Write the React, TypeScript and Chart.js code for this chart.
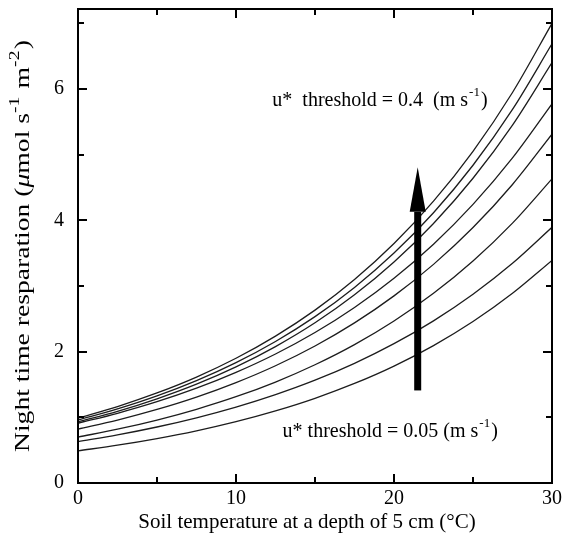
import React, { useEffect, useRef } from "react";
import { Chart, registerables } from "chart.js";

Chart.register(...registerables);

// ---- data ----
const temperatures = [0, 2.5, 5, 7.5, 10, 12.5, 15, 17.5, 20, 22.5, 25, 27.5, 30];

const curve005 = [0.49, 0.576, 0.677, 0.795, 0.934, 1.098, 1.29, 1.516, 1.781, 2.093, 2.459, 2.889, 3.39];
const curve010 = [0.63, 0.733, 0.853, 0.993, 1.156, 1.346, 1.566, 1.823, 2.122, 2.47, 2.875, 3.346, 3.894];
const curve015 = [0.7, 0.819, 0.959, 1.123, 1.314, 1.538, 1.801, 2.108, 2.468, 2.889, 3.381, 3.958, 4.633];
const curve020 = [0.82, 0.958, 1.12, 1.308, 1.529, 1.786, 2.087, 2.439, 2.85, 3.33, 3.891, 4.547, 5.313];
const curve025 = [0.91, 1.062, 1.238, 1.444, 1.685, 1.965, 2.292, 2.674, 3.119, 3.638, 4.244, 4.951, 5.775];
const curve030 = [0.93, 1.092, 1.283, 1.506, 1.769, 2.078, 2.44, 2.866, 3.366, 3.953, 4.642, 5.452, 6.403];
const curve035 = [0.96, 1.129, 1.327, 1.56, 1.834, 2.156, 2.534, 2.979, 3.502, 4.117, 4.84, 5.69, 6.689];
const curve040 = [0.99, 1.165, 1.372, 1.614, 1.9, 2.237, 2.633, 3.099, 3.647, 4.293, 5.053, 5.948, 7.001];

const seriesList = [curve005, curve010, curve015, curve020, curve025, curve030, curve035, curve040];
const seriesNames = ["0.05", "0.10", "0.15", "0.20", "0.25", "0.30", "0.35", "0.40"];

const xTickValues = [0, 10, 20, 30];
const xMinorTicks = [5, 15, 25];
const yTickValues = [0, 2, 4, 6];
const yMinorTicks = [1, 3, 5, 7];

const xTitle = "Soil temperature at a depth of 5 cm (\u00B0C)";
// y title pieces: [text, style] where style: n = normal, i = italic, s = superscript
const yTitleParts: [string, string][] = [
  ["Night time resparation (", "n"],
  ["\u03BC", "i"],
  ["mol s", "n"],
  ["-1", "s"],
  [" m", "n"],
  ["-2", "s"],
  [")", "n"],
];

// annotation (data coordinates)
const arrowX = 21.5;
const arrowFrom = 1.41;
const arrowTo = 4.81;
const arrowHeadBase = 4.13;
const highLabel = { x: 12.3, y: 5.83, text: "u*  threshold = 0.4  (m s", sup: "-1", tail: ")" };
const lowLabel = { x: 12.95, y: 0.78, text: "u* threshold = 0.05 (m s", sup: "-1", tail: ")" };

const FONT = "'Liberation Serif', 'Times New Roman', serif";

const framePlugin = {
  id: "frameTicks",
  afterDatasetsDraw(chart: any) {
    const { ctx, chartArea, scales } = chart;
    const xs = scales.x;
    const ys = scales.y;
    const { left, right, top, bottom } = chartArea;
    ctx.save();
    ctx.strokeStyle = "#000";
    ctx.lineWidth = 2;
    ctx.strokeRect(left, top, right - left, bottom - top);
    const drawX = (v: number, len: number) => {
      const px = Math.round(xs.getPixelForValue(v));
      ctx.beginPath();
      ctx.moveTo(px, bottom);
      ctx.lineTo(px, bottom - len);
      ctx.moveTo(px, top);
      ctx.lineTo(px, top + len);
      ctx.stroke();
    };
    const drawY = (v: number, len: number) => {
      const py = Math.round(ys.getPixelForValue(v));
      ctx.beginPath();
      ctx.moveTo(left, py);
      ctx.lineTo(left + len, py);
      ctx.moveTo(right, py);
      ctx.lineTo(right - len, py);
      ctx.stroke();
    };
    xTickValues.forEach((v) => drawX(v, 9));
    xMinorTicks.forEach((v) => drawX(v, 6));
    yTickValues.forEach((v) => drawY(v, 9));
    yMinorTicks.forEach((v) => drawY(v, 6));

    // arrow
    const ax = xs.getPixelForValue(arrowX);
    const ay0 = ys.getPixelForValue(arrowFrom);
    const ay1 = ys.getPixelForValue(arrowTo);
    const ayb = ys.getPixelForValue(arrowHeadBase);
    ctx.fillStyle = "#000";
    ctx.fillRect(ax - 3.5, ayb, 7, ay0 - ayb);
    ctx.beginPath();
    ctx.moveTo(ax, ay1);
    ctx.lineTo(ax + 8, ayb);
    ctx.lineTo(ax - 8, ayb);
    ctx.closePath();
    ctx.fill();

    // annotation labels
    const drawLabel = (lab: any) => {
      const px = xs.getPixelForValue(lab.x);
      const py = ys.getPixelForValue(lab.y);
      ctx.textBaseline = "middle";
      ctx.textAlign = "left";
      ctx.font = `20px ${FONT}`;
      ctx.fillText(lab.text, px, py);
      const w = ctx.measureText(lab.text).width;
      ctx.font = `13px ${FONT}`;
      ctx.fillText(lab.sup, px + w + 1, py - 8);
      const ws = ctx.measureText(lab.sup).width;
      ctx.font = `20px ${FONT}`;
      ctx.fillText(lab.tail, px + w + ws + 2, py);
    };
    drawLabel(highLabel);
    drawLabel(lowLabel);

    // x title
    ctx.font = `21px ${FONT}`;
    ctx.textAlign = "center";
    ctx.textBaseline = "middle";
    ctx.fillText(xTitle, (left + right) / 2 - 8, 522);

    // y title with italic mu and superscripts (stretched along its length like the source)
    const fontFor = (st: string) =>
      st === "i" ? `italic 21px ${FONT}` : st === "s" ? `15px ${FONT}` : `21px ${FONT}`;
    let total = 0;
    const widths = yTitleParts.map(([t, st]) => {
      ctx.font = fontFor(st);
      const w = ctx.measureText(t).width + (st === "s" ? 1 : 0);
      total += w;
      return w;
    });
    const targetLen = 412;
    const stretch = targetLen / total;
    ctx.translate(23, (top + bottom) / 2);
    ctx.rotate(-Math.PI / 2);
    ctx.scale(stretch, 1);
    ctx.textAlign = "left";
    let cx = -total / 2;
    yTitleParts.forEach(([t, st], i) => {
      ctx.font = fontFor(st);
      ctx.fillText(t, cx, st === "s" ? -8 : 0);
      cx += widths[i];
    });
    ctx.restore();
  },
};

export default function App() {
  const ref = useRef<HTMLCanvasElement | null>(null);
  useEffect(() => {
    if (!ref.current) return;
    const chart = new Chart(ref.current, {
      type: "line",
      data: {
        datasets: seriesList.map((s, i) => ({
          label: seriesNames[i],
          data: temperatures.map((t, j) => ({ x: t, y: s[j] })),
          borderColor: "#1c1c1c",
          borderWidth: 1.3,
          pointRadius: 0,
          fill: false,
          cubicInterpolationMode: "monotone" as const,
        })),
      },
      options: {
        responsive: false,
        animation: false,
        layout: { padding: { top: 9, right: 15, left: 0, bottom: 0 } },
        plugins: { legend: { display: false }, tooltip: { enabled: false } },
        scales: {
          x: {
            type: "linear",
            min: 0,
            max: 30,
            grid: { display: false, drawTicks: false },
            border: { display: false },
            afterBuildTicks: (scale: any) => {
              scale.ticks = xTickValues.map((v) => ({ value: v }));
            },
            afterFit: (scale: any) => {
              scale.height = 56;
              scale.paddingLeft = 0;
              scale.paddingRight = 0;
            },
            ticks: {
              color: "#000",
              padding: 4,
              maxRotation: 0,
              font: { family: FONT, size: 20 },
              callback: (v: any) => String(v),
            },
          },
          y: {
            type: "linear",
            min: 0,
            max: 7.22,
            grid: { display: false, drawTicks: false },
            border: { display: false },
            afterBuildTicks: (scale: any) => {
              scale.ticks = yTickValues.map((v) => ({ value: v }));
            },
            afterFit: (scale: any) => {
              scale.width = 78;
              scale.paddingTop = 0;
              scale.paddingBottom = 0;
            },
            ticks: {
              color: "#000",
              padding: 14,
              font: { family: FONT, size: 20 },
              callback: (v: any) => String(v),
            },
          },
        },
      },
      plugins: [framePlugin],
    });
    return () => chart.destroy();
  }, []);
  return (
    <div style={{ position: "fixed", left: 0, top: 0, width: 567, height: 539, background: "#fff" }}>
      <canvas ref={ref} width={567} height={539} style={{ display: "block" }} />
    </div>
  );
}
